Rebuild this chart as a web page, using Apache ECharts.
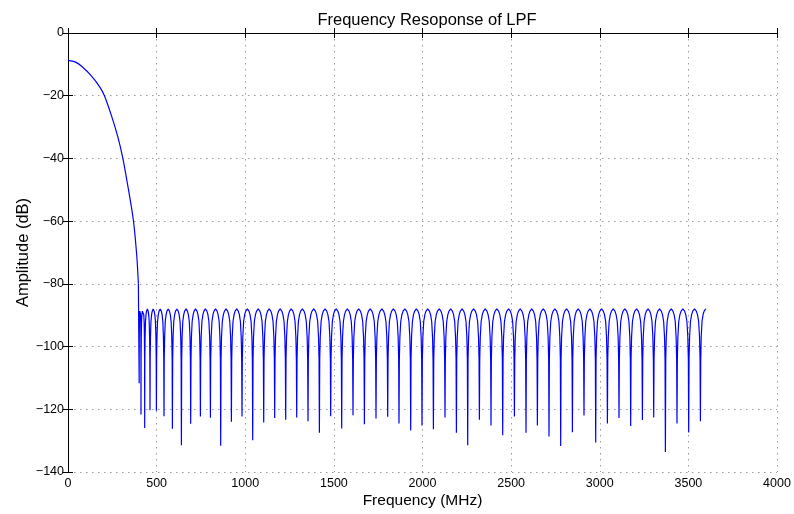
<!DOCTYPE html>
<html>
<head>
<meta charset="utf-8">
<script src="https://cdn.jsdelivr.net/npm/echarts@6/dist/echarts.min.js"></script>
<style>
  html, body { margin: 0; padding: 0; background: #fff; }
  #chart { width: 794px; height: 514px; }
</style>
</head>
<body>
<div id="chart"></div>
<script>
// Passband of the low-pass filter (MHz, dB)
const passFreq = [0, 40, 77, 134, 177, 205, 246, 280, 309, 341, 369, 388, 397];
const passDb   = [-8.7, -9.2, -10.6, -13.8, -17.0, -19.9, -26.5, -32.9, -39.8, -49.9, -59.8, -71.1, -79.9];

// Stopband nulls (MHz, dB)
const nullFreq = [
  401.5, 411.8, 432.7, 462.6, 498.7, 541.6, 589.0, 639.8, 692.2, 747.0,
  803.4, 861.5, 921.9, 981.7, 1042.0, 1104.1, 1166.1, 1228.2, 1290.3, 1354.0,
  1418.3, 1482.1, 1544.1, 1607.9, 1672.2, 1737.7, 1803.7, 1867.4, 1933.4, 1997.2,
  2061.5, 2126.9, 2191.3, 2255.0, 2321.0, 2386.5, 2452.5, 2518.5, 2583.9, 2648.2,
  2713.7, 2779.7, 2845.7, 2911.1, 2977.2, 3043.2, 3108.6, 3174.6, 3240.6, 3304.4,
  3370.4, 3435.8, 3501.8, 3567.9
];
const nullDb = [
  -111.7, -121.7, -126.0, -120.3, -120.5, -122.2, -126.2, -131.5, -124.6, -122.3,
  -122.7, -131.6, -124.0, -122.3, -129.9, -124.2, -122.8, -123.3, -122.6, -123.8,
  -127.5, -122.2, -126.1, -121.9, -124.8, -122.9, -122.4, -124.5, -126.8, -125.2,
  -126.4, -122.6, -127.5, -131.5, -123.3, -125.2, -128.3, -122.3, -127.5, -125.2,
  -128.7, -131.7, -127.3, -122.0, -130.6, -124.5, -122.8, -125.3, -123.4, -122.6,
  -133.6, -124.5, -127.4, -123.8
];
const ripplePeakDb = -88;   // equiripple stopband peak level
const stopEndFreq = 3598;   // last computed frequency

// Shape of one ripple lobe: position as a fraction of the half-lobe measured
// from a null, and the level below the ripple peak there (dB)
const lobePos  = [0.06, 0.15, 0.3, 0.5, 0.7, 0.85, 1];
const lobeDrop = [16, 9, 4, 1.8, 0.7, 0.2, 0];

const xTicks = [0, 500, 1000, 1500, 2000, 2500, 3000, 3500, 4000];
const yTicks = [-140, -120, -100, -80, -60, -40, -20, 0];

function buildPassband() {
  return passFreq.map((f, i) => [f, passDb[i]]);
}

function buildStopband() {
  const last = passFreq.length - 1;
  const pts = [[passFreq[last], passDb[last]]];
  for (let i = 0; i < nullFreq.length; i++) {
    const a = nullFreq[i];
    pts.push([a, nullDb[i]]);
    if (i + 1 < nullFreq.length) {
      const b = nullFreq[i + 1];
      const half = (b - a) / 2;
      for (let k = 0; k < lobePos.length; k++) {
        pts.push([a + lobePos[k] * half, ripplePeakDb - lobeDrop[k]]);
      }
      for (let k = lobePos.length - 2; k >= 0; k--) {
        pts.push([b - lobePos[k] * half, ripplePeakDb - lobeDrop[k]]);
      }
    } else {
      const half = stopEndFreq - a;
      for (let k = 0; k < lobePos.length; k++) {
        pts.push([a + lobePos[k] * half, ripplePeakDb - lobeDrop[k]]);
      }
    }
  }
  return pts;
}

const FONT = 'Liberation Sans, Arial, Helvetica, sans-serif';
const minus = v => String(v).replace('-', '\u2212');

const gridLine = { show: true, lineStyle: { color: '#9a9a9a', width: 1, type: [1.5, 4.5] } };
const axisLine = { show: true, lineStyle: { color: '#000', width: 1 } };
const tickIn = { show: true, inside: true, length: 5, lineStyle: { color: '#000', width: 1 } };
const curveStyle = { color: '#0000ff', width: 1.2 };

const chart = echarts.init(document.getElementById('chart'), null, { renderer: 'canvas' });
chart.setOption({
  animation: false,
  backgroundColor: '#fff',
  title: {
    text: 'Frequency Resoponse of LPF',
    left: 422, top: 7, textAlign: 'center',
    textStyle: { fontFamily: FONT, fontSize: 16.5, fontWeight: 'normal', color: '#000' }
  },
  grid: { left: 68, right: 17, top: 33, bottom: 41, containLabel: false },
  xAxis: [{
    type: 'value', min: xTicks[0], max: xTicks[xTicks.length - 1], interval: 500,
    position: 'bottom',
    name: 'Frequency (MHz)', nameLocation: 'middle', nameGap: 21, nameMoveOverlap: false,
    nameTextStyle: { fontFamily: FONT, fontSize: 15.5, color: '#000' },
    axisLine, axisTick: tickIn, splitLine: gridLine,
    axisLabel: { fontFamily: FONT, fontSize: 12.5, color: '#000', margin: 5, formatter: v => String(v) }
  }, {
    type: 'value', min: xTicks[0], max: xTicks[xTicks.length - 1], interval: 500,
    position: 'top', axisLine, axisTick: tickIn,
    axisLabel: { show: false }, splitLine: { show: false }
  }],
  yAxis: [{
    type: 'value', min: yTicks[0], max: yTicks[yTicks.length - 1], interval: 20,
    position: 'left',
    name: 'Amplitude (dB)', nameLocation: 'middle', nameGap: 36, nameRotate: 90, nameMoveOverlap: false,
    nameTextStyle: { fontFamily: FONT, fontSize: 16.5, color: '#000' },
    axisLine, axisTick: tickIn, splitLine: gridLine,
    axisLabel: { fontFamily: FONT, fontSize: 12.5, color: '#000', margin: 4, formatter: minus }
  }, {
    type: 'value', min: yTicks[0], max: yTicks[yTicks.length - 1], interval: 20,
    position: 'right', axisLine, axisTick: tickIn,
    axisLabel: { show: false }, splitLine: { show: false }
  }],
  series: [{
    name: 'passband',
    type: 'line',
    data: buildPassband(),
    showSymbol: false, symbol: 'none',
    smooth: 0.3,
    lineStyle: curveStyle,
    xAxisIndex: 0, yAxisIndex: 0
  }, {
    name: 'stopband',
    type: 'line',
    data: buildStopband(),
    showSymbol: false, symbol: 'none',
    smooth: false,
    lineStyle: curveStyle,
    xAxisIndex: 0, yAxisIndex: 0
  }]
});
</script>
</body>
</html>
